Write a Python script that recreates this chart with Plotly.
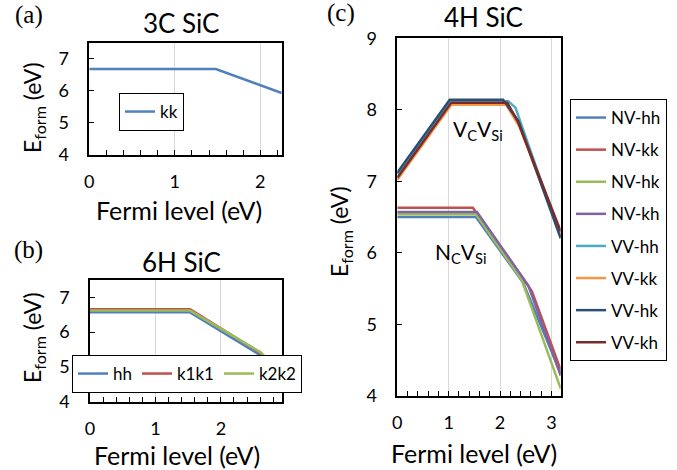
import plotly.graph_objects as go

W, H = 677, 470

# ---------------- data ----------------
# (a) 3C SiC
fermi_3c_kk = [0, 1.48, 2.25]
eform_3c_kk = [6.68, 6.68, 5.93]

# (b) 6H SiC
fermi_6h_hh = [0, 1.53, 2.60, 2.93]
eform_6h_hh = [6.57, 6.57, 5.34, 4.62]
fermi_6h_k1k1 = [0, 1.53, 2.60, 2.93]
eform_6h_k1k1 = [6.66, 6.66, 5.41, 4.72]
fermi_6h_k2k2 = [0, 1.53, 2.61, 2.93]
eform_6h_k2k2 = [6.62, 6.62, 5.42, 4.77]

# (c) 4H SiC
fermi_nv_hh = [0, 1.53, 2.45, 3.18]
eform_nv_hh = [6.50, 6.50, 5.58, 4.31]
fermi_nv_kk = [0, 1.47, 2.62, 3.18]
eform_nv_kk = [6.63, 6.63, 5.46, 4.36]
fermi_nv_hk = [0, 1.53, 2.42, 3.18]
eform_nv_hk = [6.54, 6.54, 5.62, 4.10]
fermi_nv_kh = [0, 1.55, 2.55, 3.18]
eform_nv_kh = [6.57, 6.57, 5.54, 4.28]
fermi_vv_hh = [0, 1.03, 2.16, 2.30, 2.45, 3.18]
eform_vv_hh = [7.10, 8.12, 8.12, 8.03, 7.72, 6.22]
fermi_vv_kk = [0, 1.05, 2.12, 2.38, 3.18]
eform_vv_kk = [7.02, 8.07, 8.07, 7.76, 6.25]
fermi_vv_hk = [0, 1.02, 2.06, 2.36, 3.18]
eform_vv_hk = [7.12, 8.14, 8.14, 7.84, 6.20]
fermi_vv_kh = [0, 1.05, 2.14, 2.35, 3.18]
eform_vv_kh = [7.05, 8.10, 8.10, 7.83, 6.30]

names_3c = ["kk"]
names_6h = ["hh", "k1k1", "k2k2"]
names_4h = ["NV-hh", "NV-kk", "NV-hk", "NV-kh", "VV-hh", "VV-kk", "VV-hk", "VV-kh"]

x_max = {"a": 2.25, "b": 2.93, "c": 3.18}
y_rng = {"a": [4, 7.5], "b": [4, 7.5], "c": [4, 9]}

colors = ["#4F81BD", "#C0504D", "#9BBB59", "#8064A2",
          "#4BACC6", "#F79646", "#2C4D75", "#772C2A"]

FONT = "Lato"
SERIF = "Liberation Serif"

def px2x(p):
    return p / W

def px2y(p):
    return 1 - p / H

fig = go.Figure()
LW = 2.5

# (a)
fig.add_trace(go.Scatter(x=fermi_3c_kk, y=eform_3c_kk, mode="lines", name=names_3c[0],
                         line=dict(color=colors[0], width=LW),
                         xaxis="x", yaxis="y", legend="legend"))
# (b)
for xs, ys, nm, c in zip([fermi_6h_hh, fermi_6h_k1k1, fermi_6h_k2k2],
                         [eform_6h_hh, eform_6h_k1k1, eform_6h_k2k2],
                         names_6h, colors[:3]):
    fig.add_trace(go.Scatter(x=xs, y=ys, mode="lines", name=nm,
                             line=dict(color=c, width=LW),
                             xaxis="x2", yaxis="y2", legend="legend2"))
# (c)
xs4 = [fermi_nv_hh, fermi_nv_kk, fermi_nv_hk, fermi_nv_kh,
       fermi_vv_hh, fermi_vv_kk, fermi_vv_hk, fermi_vv_kh]
ys4 = [eform_nv_hh, eform_nv_kk, eform_nv_hk, eform_nv_kh,
       eform_vv_hh, eform_vv_kk, eform_vv_hk, eform_vv_kh]
for i, (xs, ys, nm) in enumerate(zip(xs4, ys4, names_4h)):
    fig.add_trace(go.Scatter(x=xs, y=ys, mode="lines", name=nm,
                             line=dict(color=colors[i], width=LW),
                             xaxis="x3", yaxis="y3", legend="legend3",
                             legendgroup=nm))

TICK = 18

def xaxis(dom, rng, anchor):
    return dict(domain=dom, range=rng, anchor=anchor, dtick=1, tick0=0,
                showline=True, linecolor="black", linewidth=1.5, mirror=True,
                ticks="inside", ticklen=5, tickcolor="black", tickwidth=1.2,
                showgrid=True, gridcolor="#D9D9D9", gridwidth=1,
                zeroline=False, ticklabelstandoff=10, automargin=False,
                minor=dict(dtick=0.2, tick0=0, ticks="inside", ticklen=5,
                           tickcolor="black", tickwidth=1.2, showgrid=False),
                tickfont=dict(family=FONT, size=TICK, color="black"))

def yaxis(dom, rng, anchor):
    return dict(domain=dom, range=rng, anchor=anchor, dtick=1, tick0=0,
                showline=True, linecolor="black", linewidth=1.5, mirror=True,
                ticks="inside", ticklen=5, tickcolor="black", tickwidth=1.2,
                showgrid=False, zeroline=False, ticklabelstandoff=15, automargin=False,
                tickfont=dict(family=FONT, size=TICK, color="black"))

# plot area boxes in window pixels (left, right, top, bottom)
box_a = (89.3, 281.7, 42.7, 155.0)
box_b = (90.0, 281.7, 280.0, 401.7)
box_c = (397.3, 560.7, 38.3, 395.7)

def dom(box):
    l, r, t, b = box
    return [px2x(l), px2x(r)], [px2y(b), px2y(t)]

xa, ya = dom(box_a)
xb, yb = dom(box_b)
xc, yc = dom(box_c)

LEG = 17
fig.update_layout(
    width=W, height=H, margin=dict(l=0, r=0, t=0, b=0, pad=0, autoexpand=False),
    paper_bgcolor="white", plot_bgcolor="white",
    xaxis=xaxis(xa, [0, x_max["a"]], "y"),
    yaxis=yaxis(ya, y_rng["a"], "x"),
    xaxis2=xaxis(xb, [0, x_max["b"]], "y2"),
    yaxis2=yaxis(yb, y_rng["b"], "x2"),
    xaxis3=xaxis(xc, [0, x_max["c"]], "y3"),
    yaxis3=yaxis(yc, y_rng["c"], "x3"),
    legend=dict(x=px2x(119), y=px2y(93), xanchor="left", yanchor="top",
                bordercolor="black", borderwidth=1, bgcolor="white",
                font=dict(family=FONT, size=LEG, color="black"),
                itemwidth=30),
    legend2=dict(x=px2x(72), y=px2y(355), xanchor="left", yanchor="top",
                 orientation="h", bordercolor="black", borderwidth=1, bgcolor="white",
                 font=dict(family=FONT, size=LEG, color="black"),
                 itemwidth=30),
    legend3=dict(x=px2x(570), y=px2y(99), xanchor="left", yanchor="top",
                 bordercolor="black", borderwidth=1, bgcolor="white",
                 font=dict(family=FONT, size=LEG, color="black"),
                 itemwidth=30, tracegroupgap=7, traceorder="grouped"),
    showlegend=True,
)

ann = []
def text(x, y, s, size, family=FONT, angle=0):
    ann.append(dict(x=px2x(x), y=px2y(y), xref="paper", yref="paper", text=s,
                    showarrow=False, xanchor="center", yanchor="middle",
                    textangle=angle, font=dict(family=family, size=size, color="black")))

# panel labels
text(29, 15, "(a)", 25, SERIF)
text(28, 250, "(b)", 25, SERIF)
text(341, 13, "(c)", 25, SERIF)
# titles
text(181, 23, "3C SiC", 26)
text(181, 262, "6H SiC", 26)
text(483, 17, "4H SiC", 26)
# x titles
XT = 25
text(179, 210, "Fermi level (eV)", XT)
text(177, 455, "Fermi level (eV)", XT)
text(474, 453, "Fermi level (eV)", XT)
# y titles
YT = 23
ytitle = "E<sub>form</sub> (eV)"
text(33, 108, ytitle, YT, angle=-90)
text(33, 338, ytitle, YT, angle=-90)
text(340, 232, ytitle, YT, angle=-90)

fig.update_layout(annotations=ann)
# in-plot labels (data coords)
fig.add_annotation(x=1.57, y=7.72, xref="x3", yref="y3", text="V<sub>C</sub>V<sub>Si</sub>",
                   showarrow=False, font=dict(family=FONT, size=21, color="black"))
fig.add_annotation(x=1.24, y=6.0, xref="x3", yref="y3", text="N<sub>C</sub>V<sub>Si</sub>",
                   showarrow=False, font=dict(family=FONT, size=21, color="black"))

# remove the default 8px page margin so the figure fills the window exactly
fig.write_html("out.html",
               config={"displayModeBar": False},
               post_script="document.body.style.margin='0';document.body.style.overflow='hidden';")
